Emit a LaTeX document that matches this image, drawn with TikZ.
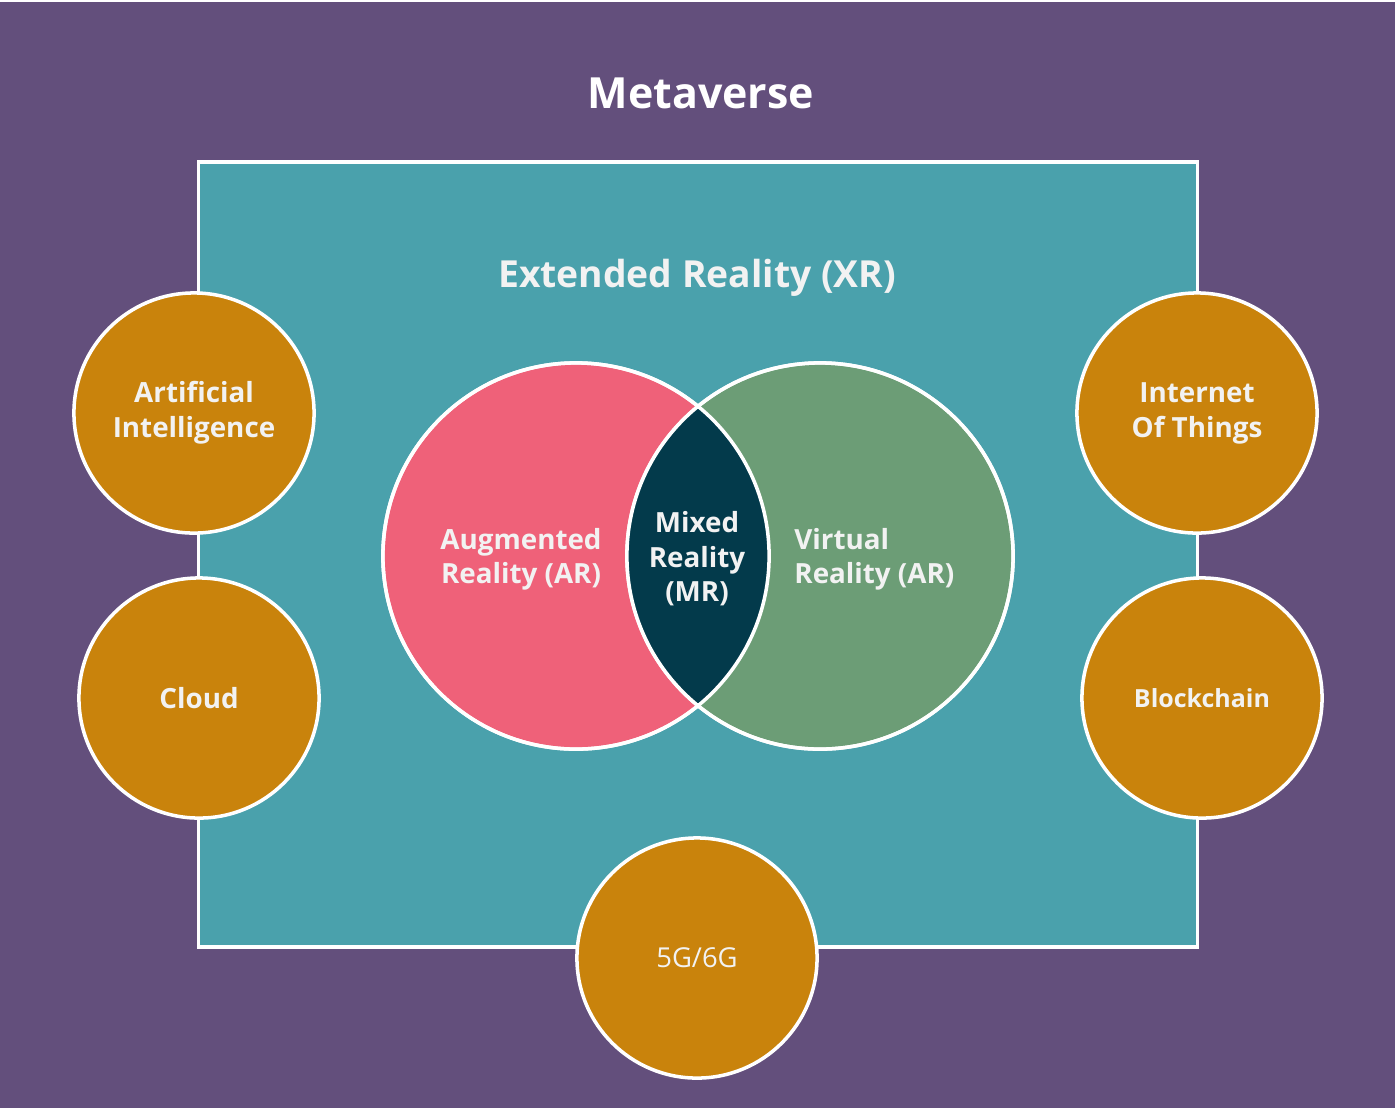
\documentclass[tikz,border=0pt]{standalone}
\usepackage{fontspec}
\setmainfont{Open Sans}
\usetikzlibrary{positioning}
\definecolor{metapurple}{HTML}{634F7C}
\definecolor{xrteal}{HTML}{4AA1AC}
\definecolor{arpink}{HTML}{EF6179}
\definecolor{vrgreen}{HTML}{6C9D76}
\definecolor{mrnavy}{HTML}{033A4B}
\definecolor{techgold}{HTML}{C9830C}
\definecolor{softwhite}{HTML}{F2F2F2}
\tikzset{
  tech/.style={draw=white, line width=1pt, circle, fill=techgold, minimum size=2.4cm,
    text=softwhite, align=center, font=\bfseries\fontsize{7.9}{9.9}\selectfont},
  venn/.style={draw=white, line width=1pt, circle, minimum size=3.86cm},
  vlabel/.style={text=softwhite, align=center, font=\bfseries\fontsize{7.9}{9.8}\selectfont}
}

\begin{document}
\begin{tikzpicture}[x=0.01cm, y=-0.01cm]
\useasboundingbox (0, 0) rectangle (1400, 1114);
\fill[metapurple] (0, 2) rectangle (1395, 1108);
\node[anchor=center, text=white, font=\bfseries\fontsize{12.2}{14}\selectfont] (title) at (701, 93) {Metaverse};
% extended reality box
\node[draw=white, line width=1pt, fill=xrteal, minimum width=9.98cm, minimum height=7.85cm, inner sep=0pt] (XR) at (698, 554.5) {};
\node[text=softwhite, font=\bfseries\fontsize{10.6}{13}\selectfont] (XRtitle) at (697, 278) {Extended Reality (XR)};
% venn
\node[venn, fill=arpink] (AR) at (576, 556) {};
\node[venn, fill=vrgreen] (VR) at (820, 556) {};
\begin{scope}
\clip (AR.center) circle[radius=1.93cm];
\fill[mrnavy] (VR.center) circle[radius=1.93cm];
\end{scope}
\draw[white, line width=1pt] (AR.center) circle[radius=1.93cm];
\draw[white, line width=1pt] (VR.center) circle[radius=1.93cm];
\node[vlabel] (ARtext) at (521, 559) {Augmented\\Reality (AR)};
\node[vlabel] (MRtext) at (697, 559) {Mixed\\Reality\\(MR)};
\node[vlabel, anchor=west, align=left] (VRtext) at (782, 559) {Virtual\\Reality (AR)};
% technologies
\node[tech] (AI) at (194, 413) {Artificial\\Intelligence};
\node[tech] (cloud) at (199, 698) {Cloud};
\node[tech] (IoT) at (1197, 413) {Internet\\Of Things};
\node[tech, font=\bfseries\fontsize{7.1}{9}\selectfont] (chain) at (1202, 698) {Blockchain};
\node[tech, font=\fontsize{7.8}{9}\selectfont] (net) at (697, 958) {5G/6G};
\end{tikzpicture}
\end{document}
